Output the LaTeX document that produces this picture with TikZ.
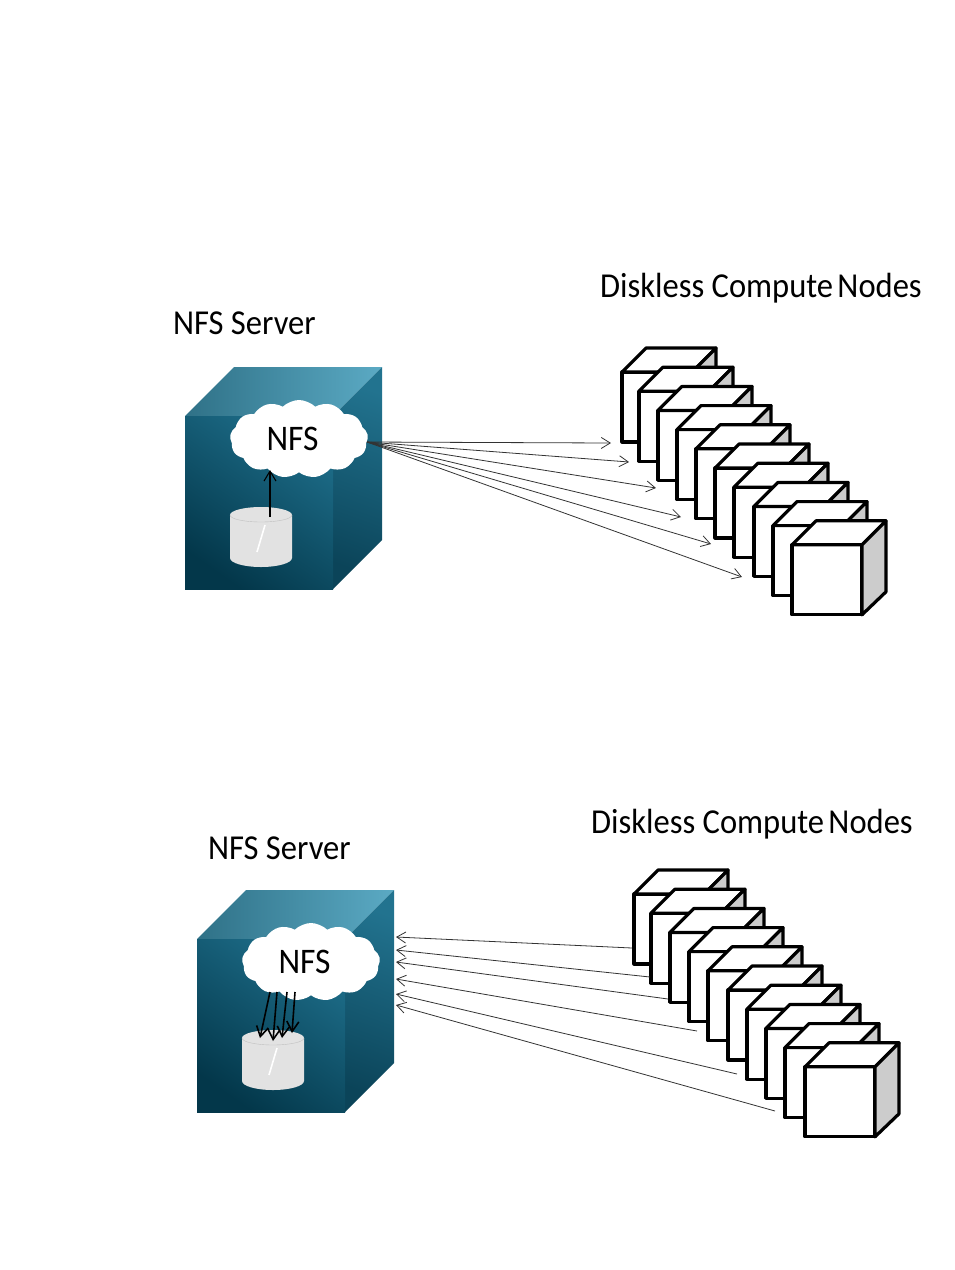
\documentclass[tikz,border=0pt]{standalone}
\usepackage{fontspec}
\setmainfont[FakeStretch=0.93]{Carlito}
\usetikzlibrary{arrows.meta,shapes.symbols}
\definecolor{frontdark}{HTML}{03374A}
\definecolor{frontlight}{HTML}{1E6E8A}
\definecolor{topdark}{HTML}{2F7187}
\definecolor{toplight}{HTML}{5BAAC4}
\definecolor{sidedark}{HTML}{0B4459}
\definecolor{sidelight}{HTML}{22738F}
\definecolor{diskgray}{HTML}{E2E2E2}
\tikzset{
  label/.style={font=\fontsize{35}{40}\selectfont,anchor=base west,inner sep=0pt},
  nfscloud/.style={cloud,cloud puffs=13,cloud puff arc=90,aspect=1.8,fill=white,minimum width=138,minimum height=78,inner sep=0pt,font=\fontsize{36}{40}\selectfont},
  thinarrow/.style={-{Straight Barb[length=9pt,width=11pt]},line width=0.8pt,black!80},
  diskarrow/.style={-{Straight Barb[length=10pt,width=12pt]},line width=1.6pt,black},
  server/.pic={
    \shade[left color=topdark,right color=toplight] (0,0) -- (49,-49) -- (197,-49) -- (148,0) -- cycle;
    \shade[bottom color=sidedark,top color=sidelight,shading angle=-20] (148,0) -- (197,-49) -- (197,124) -- (148,173) -- cycle;
    \shade[left color=frontlight,right color=frontdark,shading angle=-35] (0,0) rectangle (148,173);
    \node[nfscloud] (-cloud) at (114,23) {NFS\hspace*{13pt}};
    \fill[diskgray] (45,99) -- (45,142) arc[start angle=180,end angle=0,x radius=31,y radius=9] -- (107,99) arc[start angle=0,end angle=-180,x radius=31,y radius=8] -- cycle;
    \coordinate (-disk) at (76,100);
    \draw[black!25,line width=0.4pt] (45,99) arc[start angle=180,end angle=0,x radius=31,y radius=7];
    \draw[white,line width=1.6pt] (80,109) -- (72,136);
  },
  computenode/.pic={
    \draw[line width=3.2pt,fill=white,line join=round] (0,0) rectangle (70,70);
    \draw[line width=3.2pt,fill=white,line join=round] (0,0) -- (24,-24) -- (94,-24) -- (70,0) -- cycle;
    \draw[line width=3.2pt,fill=black!20,line join=round] (70,0) -- (94,-24) -- (94,47) -- (70,70) -- cycle;
  }
}
\begin{document}
\begin{tikzpicture}[x=1pt,y=-1pt]
  \useasboundingbox (0,0) rectangle (954,1270);
  % upper diagram
  \node[label] (srvlabela) at (173,334) {NFS Server};
  \node[label] (cnlabela) at (600,297) {Diskless Compute\hspace{-3pt} Nodes};
  \pic (srva) at (185,416) {server};
  \foreach \x [count=\i from 0] in {622,639,658,677,696,715,734,754,773,792}
    \pic (cna\i) at ({\x},{372+\i*19.2}) {computenode};
  \coordinate (updisk) at (270,517);
  \draw[diskarrow,line width=1.1pt] (updisk) -- (270,470);
  \coordinate (srvouta) at (367,442);
  \foreach \x/\y in {611/443,629/462,656/488,681/517,711/544,742/577}
    \draw[thinarrow] (srvouta) -- (\x,\y);
  % lower diagram
  \node[label] (srvlabelb) at (208,859) {NFS Server};
  \node[label] (cnlabelb) at (591,833) {Diskless Compute\hspace{-3pt} Nodes};
  \pic (srvb) at (197,939) {server};
  \foreach \x [count=\i from 0] in {634,651,670,689,708,728,747,766,785,805}
    \pic (cnb\i) at ({\x},{894+\i*19.2}) {computenode};
  \foreach \a/\b/\x/\y in {632/948/396/937,650/977/396/950,668/999/396/962,697/1031/396/979,737/1074/396/994,775/1111/396/1005}
    \draw[thinarrow] (\a,\b) -- (\x,\y);
  \foreach \a/\x/\y in {270/260/1038,277/273/1041,287/282/1038,295/292/1033}
    \draw[diskarrow] (\a,992) -- (\x,\y);
\end{tikzpicture}
\end{document}
